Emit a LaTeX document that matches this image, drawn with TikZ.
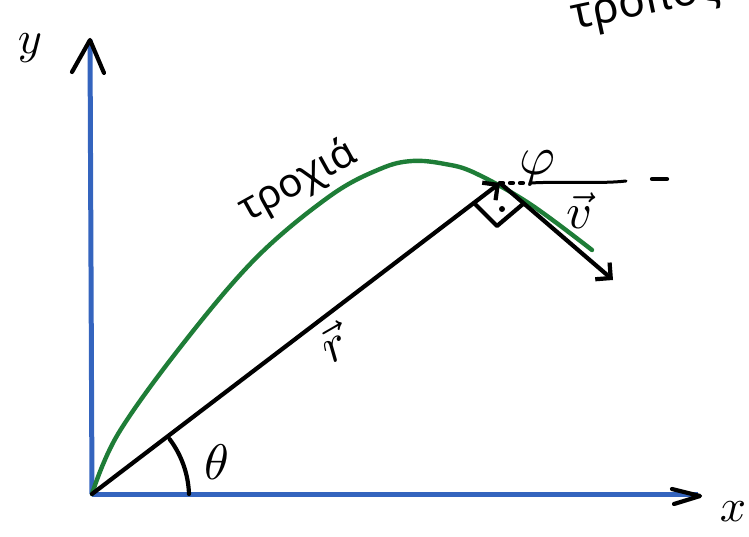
\documentclass[tikz,border=0pt]{standalone}
\usepackage{fontspec}
\setmainfont{Noto Sans}
\usetikzlibrary{arrows.meta}
\definecolor{axisblue}{RGB}{52,100,190}
\definecolor{trajgreen}{RGB}{30,125,55}
\tikzset{
  axisline/.style={axisblue, line width=5pt},
  inkline/.style={black, line width=4.2pt, line cap=round, line join=round},
  vecarrow/.style={inkline, -{Straight Barb[length=11pt, width=22pt, line width=4.2pt]}},
  traj/.style={trajgreen, line width=4.4pt, line cap=round},
  lbl/.style={inner sep=0pt, text=black}
}
\begin{document}
\begin{tikzpicture}[x=1pt, y=-1pt]
\useasboundingbox (0,0) rectangle (749,537);
\clip (0,0) rectangle (749,537);
% points
\coordinate (O) at (92,494);
\coordinate (ytop) at (90,40);
\coordinate (xend) at (698,494);
\coordinate (P) at (500,183);
\coordinate (V) at (613,280);
\coordinate (ya) at (72,72);
\coordinate (yb) at (104,73);
\coordinate (xa) at (672,489);
\coordinate (xb) at (674,504);
\coordinate (xt) at (700,496);
\coordinate (sqA) at (523,204);
\coordinate (sqB) at (497,226);
\coordinate (sqC) at (474,203);
\coordinate (dashEnd) at (667,179);
% axes
\draw[axisline] (O) -- (ytop);
\draw[axisline] (O) -- (xend);
\draw[inkline] (ya) -- (ytop) -- (yb);
\draw[inkline] (xa) -- (xt) -- (xb);
% trajectory
\draw[traj] plot[smooth, tension=0.6] coordinates {(92,494) (118,434) (182,345) (256,258) (330,196) (380,169) (412,161) (445,164) (475,173) (530,204) (592,250)};
% position vector r
\draw[vecarrow] (O) -- (P);
% velocity vector v
\draw[vecarrow] (P) -- (V);
% right angle marker
\draw[inkline] (sqA) -- (sqB) -- (sqC);
\fill (502,209) circle (3pt);
% dashed horizontal line
\draw[inkline, dash pattern=on 3pt off 7pt] (P) -- (530,183);
\draw[inkline, line width=3pt] (530,183) .. controls (570,181) and (600,184) .. (626,181);
\draw[inkline] (652,179) -- (dashEnd);
% angle theta
\draw[inkline] ([shift={(0:97)}]O) arc[start angle=-2, end angle=-37, radius=97];
\node[lbl, scale=5] (theta) at (217,462) {$\theta$};
% labels
\node[lbl, font=\fontsize{40}{40}\selectfont, rotate=29] (trajlbl) at (298,182) {τροχιά};
\node[lbl, scale=5, rotate=30] (rlbl) at (333,343) {$\vec{r}$};
\node[lbl, scale=5] (vlbl) at (579,211) {$\vec{v}$};
\node[lbl, scale=5.5] (philbl) at (537,168) {$\varphi$};
\node[lbl, scale=4.6] (ylbl) at (30,48) {$y$};
\node[lbl, scale=4.6] (xlbl) at (733,512) {$x$};
\node[lbl, font=\fontsize{44}{44}\selectfont, rotate=12, anchor=base west] (toplbl) at (574,30) {τροπος};
\end{tikzpicture}
\end{document}
